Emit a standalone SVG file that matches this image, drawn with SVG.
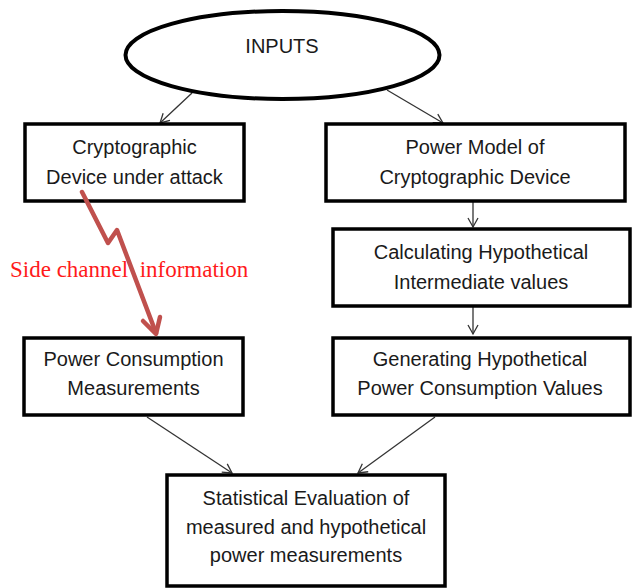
<svg xmlns="http://www.w3.org/2000/svg" width="632" height="588" viewBox="0 0 632 588">
<defs>
<marker id="ah" markerWidth="12" markerHeight="12" refX="10" refY="6" orient="auto" markerUnits="userSpaceOnUse">
<path d="M1,1 L10,6 L1,11" fill="none" stroke="#333" stroke-width="1.3"/>
</marker>
<style>
.box{fill:#fff;stroke:#000;stroke-width:3.5}
.t{font-family:"Liberation Sans",Arial,sans-serif;font-size:20px;fill:#1a1a1a;text-anchor:middle}
.c{fill:none;stroke:#333;stroke-width:1.3;marker-end:url(#ah)}
.red{fill:none;stroke:#c0504d;stroke-width:4.5;stroke-linejoin:round;stroke-linecap:round}
</style>
</defs>
<rect width="632" height="588" fill="#fff"/>
<g id="connectors">
<line class="c" x1="192" y1="93" x2="160" y2="123"/>
<line class="c" x1="387" y1="90" x2="443" y2="123"/>
<line class="c" x1="473" y1="202" x2="473" y2="227"/>
<line class="c" x1="473" y1="307" x2="473" y2="334"/>
<line class="c" x1="147" y1="417" x2="232" y2="473"/>
<line class="c" x1="435" y1="417" x2="358" y2="473"/>
</g>
<g id="inputs">
<ellipse cx="282.5" cy="55" rx="157" ry="44" fill="#fff" stroke="#000" stroke-width="4"/>
<text class="t" x="282" y="53">INPUTS</text>
</g>
<g id="device">
<rect class="box" x="25" y="124" width="219" height="77"/>
<text class="t" x="134.5" y="154">Cryptographic</text>
<text class="t" x="134.5" y="184">Device under attack</text>
</g>
<g id="power-model">
<rect class="box" x="326" y="124" width="299" height="77"/>
<text class="t" x="475" y="154">Power Model of</text>
<text class="t" x="475" y="184">Cryptographic Device</text>
</g>
<g id="calc">
<rect class="box" x="333" y="229" width="297" height="77"/>
<text class="t" x="481" y="259">Calculating Hypothetical</text>
<text class="t" x="481" y="289">Intermediate values</text>
</g>
<g id="measure">
<rect class="box" x="24" y="338" width="219" height="77"/>
<text class="t" x="133.5" y="366">Power Consumption</text>
<text class="t" x="133.5" y="395">Measurements</text>
</g>
<g id="generate">
<rect class="box" x="333" y="338" width="297" height="77"/>
<text class="t" x="480" y="366">Generating Hypothetical</text>
<text class="t" x="480" y="395">Power Consumption Values</text>
</g>
<g id="stat">
<rect class="box" x="167" y="475" width="278" height="111"/>
<text class="t" x="306" y="505">Statistical Evaluation of</text>
<text class="t" x="306" y="534">measured and hypothetical</text>
<text class="t" x="306" y="562">power measurements</text>
</g>
<text x="10" y="277" font-family="'Liberation Serif','Times New Roman',serif" font-size="23" fill="#ff1a1a" xml:space="preserve">Side channel  information</text>
<g id="side-channel">
<polyline class="red" points="82,192 108,243 117,230 156,333"/>
<polyline class="red" points="143,321 156,334 160,317"/>
</g>
</svg>
